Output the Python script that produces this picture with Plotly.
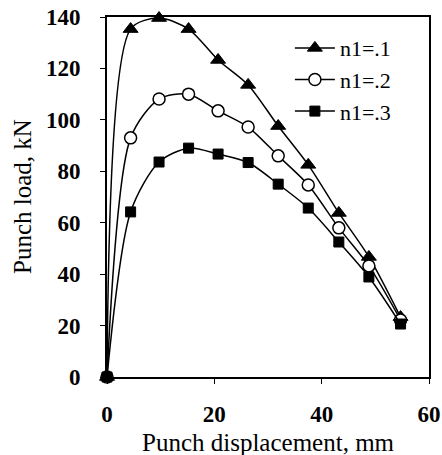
import plotly.graph_objects as go

# Data
displacement = [0, 4.4, 9.7, 15.2, 20.7, 26.3, 31.9, 37.5, 43.2, 48.8, 54.7]
load_n1_01 = [0, 135.3, 139.6, 135.3, 123.3, 113.6, 97.6, 82.5, 63.8, 46.7, 23.3]
load_n1_02 = [0, 93.0, 108.1, 110.0, 103.5, 97.2, 86.0, 74.7, 58.0, 43.2, 22.2]
load_n1_03 = [0, 64.2, 83.6, 89.0, 86.7, 83.4, 75.0, 65.7, 52.5, 38.9, 20.6]
series_names = ["n1=.1", "n1=.2", "n1=.3"]
x_ticks = [0, 20, 40, 60]
y_ticks = [0, 20, 40, 60, 80, 100, 120, 140]

serif = "Liberation Serif"

fig = go.Figure()
styles = [
    dict(symbol="triangle-up", size=13, color="black", line=dict(color="black", width=1)),
    dict(symbol="circle", size=12, color="white", line=dict(color="black", width=1.5)),
    dict(symbol="square", size=10, color="black", line=dict(color="black", width=1)),
]
for name, ys, mk in zip(series_names, [load_n1_01, load_n1_02, load_n1_03], styles):
    fig.add_trace(go.Scatter(
        x=displacement, y=ys, name=name, mode="lines+markers",
        line=dict(color="black", width=1.5, shape="spline", smoothing=0.8),
        marker=mk, cliponaxis=False,
    ))

axis_common = dict(
    showline=True, linecolor="black", linewidth=2, mirror=True,
    showgrid=False, zeroline=False, ticks="outside", ticklen=5,
    tickcolor="black", tickwidth=1, automargin=False,
    tickfont=dict(family=serif, size=23, color="black", weight="bold"),
)
fig.update_xaxes(range=[0, 60], tickvals=x_ticks, ticklabelstandoff=10, **axis_common)
fig.update_yaxes(range=[0, 140], tickvals=y_ticks, ticklabelstandoff=15, **axis_common)

fig.update_layout(
    width=442, height=455,
    margin=dict(l=107, r=13, t=17, b=78),
    paper_bgcolor="white", plot_bgcolor="white",
    showlegend=True,
    legend=dict(x=0.568, y=0.972, xanchor="left", yanchor="top",
                bgcolor="rgba(0,0,0,0)", font=dict(family=serif, size=22, color="black"),
                itemwidth=40, tracegroupgap=0),
    annotations=[
        dict(text="Punch displacement, mm", xref="paper", yref="paper",
             x=0.5, y=0, yshift=-65, xanchor="center", yanchor="middle",
             showarrow=False, font=dict(family=serif, size=25, color="black")),
        dict(text="Punch load, kN", xref="paper", yref="paper",
             x=0, xshift=-85, y=0.5, xanchor="center", yanchor="middle", textangle=-90,
             showarrow=False, font=dict(family=serif, size=25, color="black")),
    ],
)

fig.write_html("out.html")
